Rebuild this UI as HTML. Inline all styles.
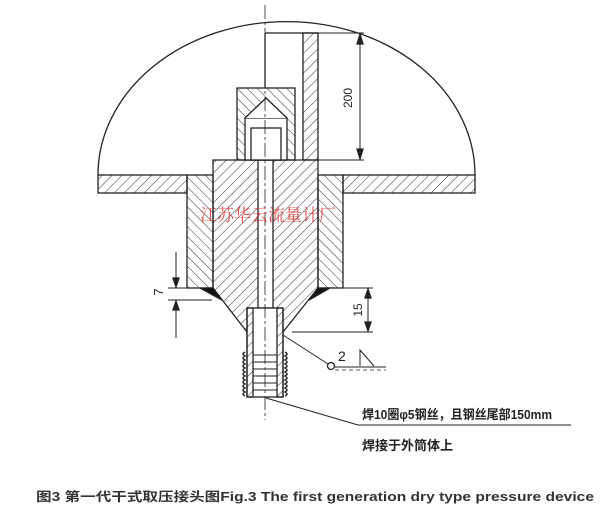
<!DOCTYPE html>
<html><head><meta charset="utf-8"><style>
html,body{margin:0;padding:0;background:#fff;}
svg{display:block;}
</style></head><body>
<svg width="607" height="512" viewBox="0 0 607 512" xmlns="http://www.w3.org/2000/svg">
<defs>
<pattern id="h" width="7" height="7" patternUnits="userSpaceOnUse" patternTransform="rotate(45)">
<line x1="0" y1="0" x2="0" y2="7" stroke="#333" stroke-width="1"/></pattern>
<pattern id="h2" width="7" height="7" patternUnits="userSpaceOnUse" patternTransform="rotate(-45)">
<line x1="0" y1="0" x2="0" y2="7" stroke="#333" stroke-width="1"/></pattern>
</defs>
<g stroke="#222" stroke-width="1.3" fill="none">
<!-- dome -->
<path d="M98,175 A188,153 0 0 1 475,175"/>
<!-- plate -->
<rect x="98" y="175" width="89" height="18" fill="url(#h)"/>
<rect x="343" y="175" width="132" height="18" fill="url(#h)"/>
<!-- outer sleeve -->
<rect x="187" y="175" width="26" height="113" fill="url(#h2)"/>
<rect x="318" y="175" width="25" height="113" fill="url(#h2)"/>
<!-- core with cone -->
<path d="M213,160 L318,160 L318,288 L283,332 L247,332 L213,288 Z" fill="url(#h)"/>
<rect x="258" y="160" width="15" height="148" fill="#fff"/>
<!-- cap -->
<rect x="237" y="88" width="58" height="72" fill="url(#h2)"/>
<rect x="245" y="118" width="42" height="42" fill="#fff"/>
<path d="M245,118 L266,98 L287,118" fill="#fff"/>
<rect x="251" y="128" width="30" height="32" fill="#fff"/>
<!-- vertical tube -->
<line x1="265" y1="33" x2="265" y2="88"/>
<line x1="265" y1="33" x2="318" y2="33"/>
<rect x="303" y="33" width="15" height="127" fill="url(#h)"/>
<!-- dim 200 -->
<line x1="318" y1="33" x2="364" y2="33" stroke-width="1"/>
<line x1="318" y1="160" x2="364" y2="160" stroke-width="1"/>
<line x1="360" y1="36" x2="360" y2="157" stroke-width="1"/>
<path d="M357,44 L360,34 L363,44 Z M357,149 L360,159 L363,149 Z" fill="#222"/>
<!-- weld fillets -->
<path d="M200,288 L213,288 L222,300 Z" fill="#111"/>
<path d="M330,288 L318,288 L309,300 Z" fill="#111"/>
<!-- nozzle -->
<rect x="247" y="308" width="36" height="89" fill="#fff"/>
<rect x="247" y="308" width="6" height="89" fill="url(#h)"/>
<rect x="277" y="308" width="6" height="89" fill="url(#h)"/>
<g stroke-width="1">
<line x1="253" y1="355" x2="277" y2="355"/><line x1="253" y1="362" x2="277" y2="362"/>
<line x1="253" y1="369" x2="277" y2="369"/><line x1="253" y1="376" x2="277" y2="376"/>
<line x1="253" y1="383" x2="277" y2="383"/><line x1="253" y1="390" x2="277" y2="390"/>
</g>
<path d="M245,352 q-4,2 0,4 q-4,2 0,4 q-4,2 0,4 q-4,2 0,4 q-4,2 0,4 q-4,2 0,4 q-4,2 0,4 q-4,2 0,4 q-4,2 0,4 q-4,2 0,4 q-4,2 0,4" stroke-width="1.5"/>
<path d="M285,352 q4,2 0,4 q4,2 0,4 q4,2 0,4 q4,2 0,4 q4,2 0,4 q4,2 0,4 q4,2 0,4 q4,2 0,4 q4,2 0,4 q4,2 0,4 q4,2 0,4" stroke-width="1.5"/>
<!-- centre line -->
<line x1="265" y1="5" x2="265" y2="420" stroke-width="0.8" stroke-dasharray="14,3,3,3"/>
<!-- dim 15 -->
<line x1="330" y1="288" x2="373" y2="288" stroke-width="1"/>
<line x1="292" y1="332" x2="373" y2="332" stroke-width="1"/>
<line x1="368" y1="290" x2="368" y2="330" stroke-width="1"/>
<path d="M365,298 L368,289 L371,298 Z M365,322 L368,331 L371,322 Z" fill="#222"/>
<!-- dim 7 -->
<line x1="168" y1="288" x2="200" y2="288" stroke-width="1"/>
<line x1="168" y1="300" x2="212" y2="300" stroke-width="1"/>
<line x1="176" y1="252" x2="176" y2="287" stroke-width="1"/>
<line x1="176" y1="301" x2="176" y2="338" stroke-width="1"/>
<path d="M173,278 L176,287 L179,278 Z M173,310 L176,301 L179,310 Z" fill="#222"/>
<!-- weld symbol leader -->
<line x1="283" y1="335" x2="328" y2="364" stroke-width="1"/>
<circle cx="331" cy="366" r="3.5" fill="#fff"/>
<line x1="335" y1="367" x2="386" y2="367" stroke-width="1"/>
<line x1="335" y1="370" x2="386" y2="370" stroke-width="0.8" stroke-dasharray="4,3"/>
<path d="M360,366 L360,350 L374,366" stroke-width="1"/>
<!-- note leader -->
<line x1="266" y1="398" x2="358" y2="425" stroke-width="1"/>
<line x1="358" y1="425" x2="571" y2="425" stroke-width="1"/>
</g>
<text x="338" y="361" font-family="Liberation Sans,sans-serif" font-size="14" fill="#222">2</text>
<text transform="translate(352,98) rotate(-90)" font-family="Liberation Sans,sans-serif" font-size="12" fill="#222" text-anchor="middle">200</text>
<text transform="translate(362,310) rotate(-90)" font-family="Liberation Sans,sans-serif" font-size="12" fill="#222" text-anchor="middle">15</text>
<text transform="translate(163,292) rotate(-90)" font-family="Liberation Sans,sans-serif" font-size="13" fill="#222" text-anchor="middle">7</text>
<text x="362" y="419" font-family="Liberation Sans,'Noto Sans CJK SC',sans-serif" font-size="13" fill="#222" font-weight="bold" textLength="190" lengthAdjust="spacingAndGlyphs">焊10圈φ5钢丝，且钢丝尾部150mm</text>
<text x="362" y="450" font-family="'Noto Sans CJK SC',sans-serif" font-size="13" fill="#222" font-weight="bold">焊接于外筒体上</text>
<text x="200" y="221" font-family="'Noto Serif CJK SC',serif" font-size="17" fill="#e03030" opacity="0.85">江苏华云流量计厂</text>
<text x="36" y="501" font-family="Liberation Sans,'Noto Sans CJK SC',sans-serif" font-size="12.5" font-weight="bold" fill="#333" textLength="558" lengthAdjust="spacingAndGlyphs">图3 第一代干式取压接头图Fig.3 The first generation dry type pressure device</text>
</svg>
</body></html>
